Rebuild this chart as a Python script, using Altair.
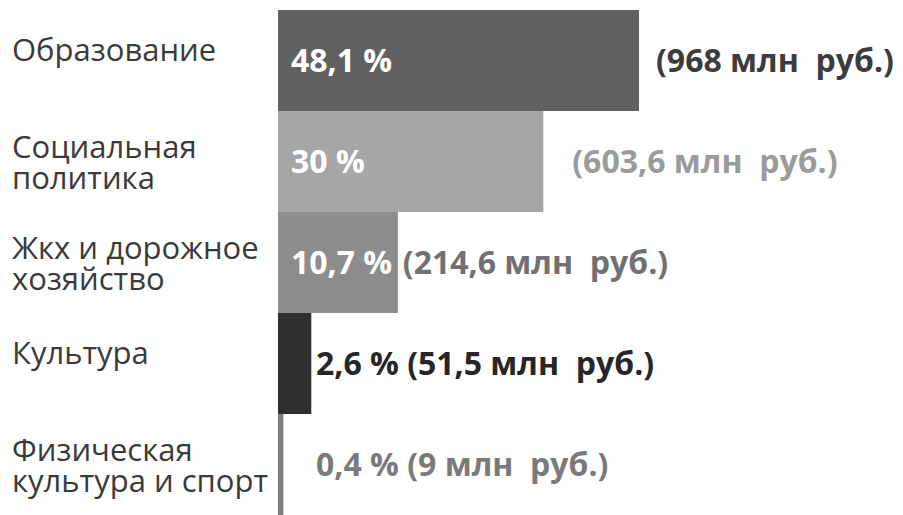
import altair as alt
import pandas as pd

categories = ["Образование", "Социальная\nполитика", "Жкх и дорожное\nхозяйство",
              "Культура", "Физическая\nкультура и спорт"]
shares = [48.1, 30.0, 10.7, 2.6, 0.4]
share_labels = ["48,1 %", "30 %", "10,7 %", "2,6 %", "0,4 %"]
amount_labels = ["(968 млн\u00a0 руб.)", "(603,6 млн\u00a0 руб.)", "(214,6 млн\u00a0 руб.)",
                 "(51,5 млн\u00a0 руб.)", "(9 млн\u00a0 руб.)"]
bar_colors = ["#616161", "#a6a6a6", "#8d8d8d", "#2f2f2f", "#7c7c7c"]
amount_colors = ["#3c3c3c", "#9b9b9b", "#717171", "#262626", "#7a7a7a"]

df = pd.DataFrame({
    "row": list(range(len(categories))),
    "cat": categories,
    "share": shares,
    "share_label": share_labels,
    "amount_label": amount_labels,
    "bar_color": bar_colors,
    "amount_color": amount_colors,
})
df["full_label"] = df["share_label"] + " " + df["amount_label"]

FONT = "Open Sans"

x = alt.X("share:Q", scale=alt.Scale(type="symlog", constant=25, domain=[0, 48.1], nice=False), axis=None)
y = alt.Y("cat:N", sort=categories,
          scale=alt.Scale(domain=categories, paddingInner=0, paddingOuter=0), axis=None)

base = alt.Chart(df)

bars = base.mark_bar().encode(
    x=x, y=y, color=alt.Color("bar_color:N", scale=None)
)

cat_one = base.transform_filter("indexof(datum.cat, '\\n') < 0").mark_text(
    align="left", baseline="alphabetic", font=FONT, fontSize=31, color="#3a3a3a"
).encode(x=alt.value(-266), y=y, text="cat:N")

cat_two = base.transform_filter("indexof(datum.cat, '\\n') >= 0").mark_text(
    align="left", baseline="alphabetic", font=FONT, fontSize=31, lineBreak="\n",
    lineHeight=31, color="#3a3a3a", dy=-4
).encode(x=alt.value(-266), y=y, text="cat:N")

inner = base.transform_filter("datum.row <= 2").mark_text(
    align="left", baseline="alphabetic", font=FONT, fontSize=32, fontWeight="bold",
    color="white", dy=11
).encode(x=alt.value(13), y=y, text="share_label:N")

amt_0 = base.transform_filter("datum.row == 0").mark_text(
    align="left", baseline="alphabetic", font=FONT, fontSize=32, fontWeight="bold", dx=17, dy=11
).encode(x=x, y=y, text="amount_label:N", color=alt.Color("amount_color:N", scale=None))

amt_1 = base.transform_filter("datum.row == 1").mark_text(
    align="left", baseline="alphabetic", font=FONT, fontSize=32, fontWeight="bold", dx=29, dy=11
).encode(x=x, y=y, text="amount_label:N", color=alt.Color("amount_color:N", scale=None))

amt_2 = base.transform_filter("datum.row == 2").mark_text(
    align="left", baseline="alphabetic", font=FONT, fontSize=32, fontWeight="bold", dx=5, dy=11
).encode(x=x, y=y, text="amount_label:N", color=alt.Color("amount_color:N", scale=None))

full = base.transform_filter("datum.row >= 3").mark_text(
    align="left", baseline="alphabetic", font=FONT, fontSize=32, fontWeight="bold", dy=11
).encode(x=alt.value(38), y=y, text="full_label:N", color=alt.Color("amount_color:N", scale=None))

chart = alt.layer(bars, cat_one, cat_two, inner, amt_0, amt_1, amt_2, full).properties(
    width=361, height=505,
    background="white",
    autosize=alt.AutoSizeParams(type="none"),
    padding={"left": 270, "top": 2, "right": 256, "bottom": 0},
).configure_view(stroke="transparent", strokeWidth=0)

chart.save("out.html", embed_options={"renderer": "svg", "actions": False})
